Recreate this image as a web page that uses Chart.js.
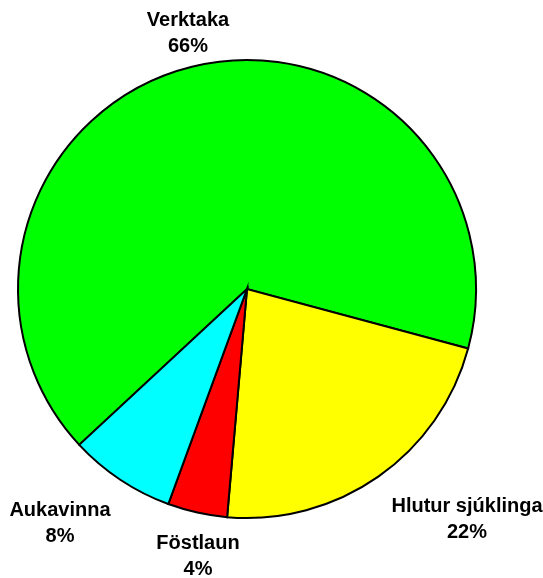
<!DOCTYPE html>
<html>
<head>
<meta charset="utf-8">
<script src="https://cdn.jsdelivr.net/npm/chart.js@4.4.0/dist/chart.umd.min.js"></script>
<style>
  html, body { margin: 0; padding: 0; background: #fff; }
  #wrap { width: 543px; height: 578px; }
</style>
</head>
<body>
<div id="wrap"><canvas id="myChart" width="543" height="578"></canvas></div>
<script>
const labels = ['Verktaka', 'Hlutur sjúklinga', 'Föstlaun', 'Aukavinna'];
const shares = [66.1, 22.2, 4.2, 7.5];
const percentLabels = ['66%', '22%', '4%', '8%'];
const colors = ['#00ff00', '#ffff00', '#ff0000', '#00ffff'];

// where each label sits, relative to the pie centre (first line baseline)
const labelOffsets = [[-59, -263], [220, 223], [-49, 260], [-187, 227]];

const outsideLabels = {
    id: 'outsideLabels',
    afterDatasetsDraw(chart) {
        const ctx = chart.ctx;
        const arc = chart.getDatasetMeta(0).data[0];
        ctx.save();
        ctx.font = 'bold 20px "Liberation Sans", Arial, sans-serif';
        ctx.fillStyle = '#000';
        ctx.textAlign = 'center';
        ctx.textBaseline = 'alphabetic';
        labels.forEach((name, i) => {
            const x = arc.x + labelOffsets[i][0];
            const y = arc.y + labelOffsets[i][1];
            ctx.fillText(name, x, y);
            ctx.fillText(percentLabels[i], x, y + 26);
        });
        ctx.restore();
    }
};

new Chart(document.getElementById('myChart'), {
    type: 'pie',
    data: {
        labels: labels,
        datasets: [{
            data: shares,
            backgroundColor: colors,
            borderColor: '#000',
            borderWidth: 2,
            borderJoinStyle: 'miter'
        }]
    },
    options: {
        responsive: false,
        animation: false,
        rotation: 227.1,
        layout: {
            padding: { left: 17, right: 66, top: 59, bottom: 59 }
        },
        plugins: {
            legend: { display: false },
            tooltip: { enabled: false }
        }
    },
    plugins: [outsideLabels]
});
</script>
</body>
</html>
